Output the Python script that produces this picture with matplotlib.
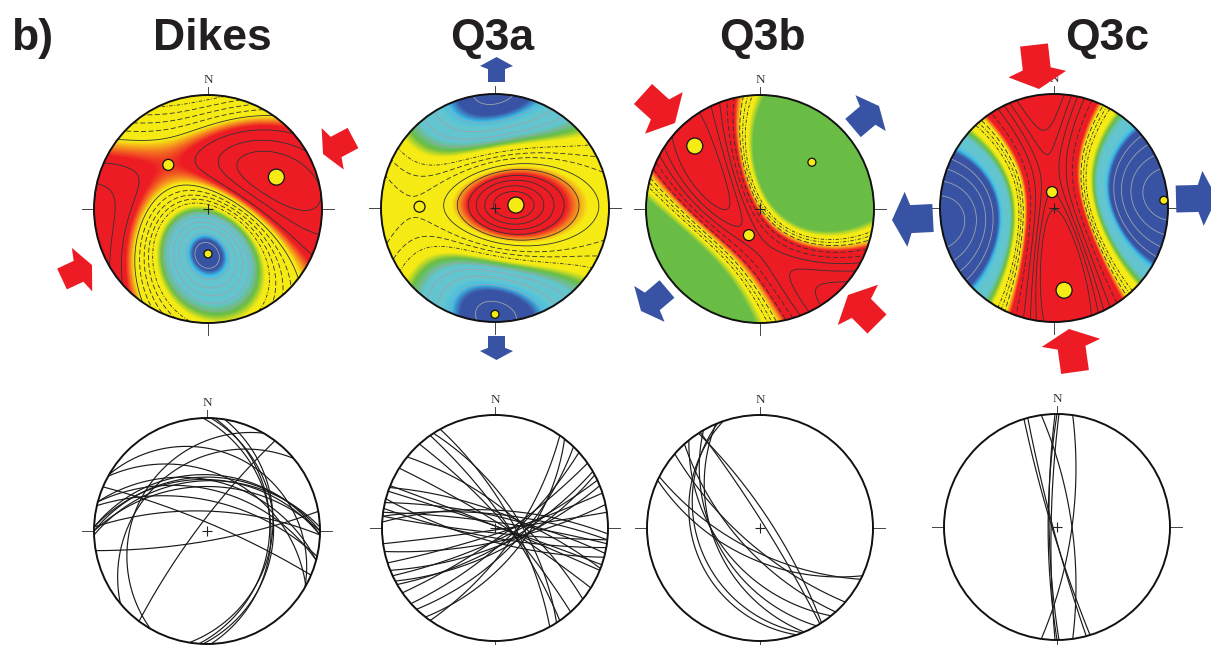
import numpy as np
import matplotlib
matplotlib.use("Agg")
import matplotlib.pyplot as plt
from matplotlib.colors import LinearSegmentedColormap
from matplotlib.patches import Circle, FancyArrow

plt.rcParams['font.family'] = ['Liberation Sans', 'DejaVu Sans']

W, H = 1211, 645
titles = ['Dikes', 'Q3a', 'Q3b', 'Q3c']

# principal axes: [sigma1, sigma2, sigma3] as trend / plunge
dikes_trend, dikes_plunge = [65, 318, 180], [23, 35, 47]
q3a_trend, q3a_plunge = [82, 271, 180], [69, 23, 4]
q3b_trend, q3b_plunge = [314, 203, 48], [13, 62, 27]
q3c_trend, q3c_plunge = [173, 353, 86], [18, 74, 2]
# stress ratio
phi = [0.74, 0.55, 0.9, 0.9]

# colour bands: value of the field at each colour stop
full_colors = ['#3953a4', '#3953a4', '#3fc1ea', '#63c5cf', '#63c5cf', '#6abd45', '#f6eb14', '#f6eb14', '#f58220', '#ed1c24', '#ed1c24']
warm_colors = ['#6abd45', '#6abd45', '#f6eb14', '#f6eb14', '#f58220', '#ed1c24', '#ed1c24']
dikes_bands = [0, .04, .07, .10, .28, .36, .42, .67, .71, .75, 1]
q3a_bands = [0, .06, .095, .13, .25, .32, .37, .66, .72, .77, 1]
q3b_bands = [0, .59, .65, .74, .77, .79, 1]
q3c_bands = [0, .33, .37, .40, .49, .54, .58, .70, .72, .74, 1]
colors = [full_colors, full_colors, warm_colors, full_colors]
green_level = [.36, .32, .59, .54]

# contour levels (grey in the cold part, dark in the warm part)
dikes_levels = [.03, .09, .15, .21, .27, .33, .46, .51, .56, .61, .66, .78, .86, .93]
q3a_levels = [.02, .10, .16, .22, .28, .42, .48, .54, .62, .70, .78, .84, .90, .95]
q3b_levels = [.68, .71, .74, .80, .84, .88, .92, .96]
q3c_levels = [.05, .12, .20, .28, .63, .66, .69, .78, .83, .87, .90, .93]

# great circles of the bottom row: strike (dip to the right of it) and dip
dikes_strike = [9, 2, 358, 4, 270, 272, 268, 272, 270, 272, 80, 293, 230, 217, 210, 299, 300, 283, 285, 285]
dikes_dip = [30, 29, 31, 32, 39, 37, 42, 41, 47, 70, 80, 82, 28, 81, 24, 37, 20, 60, 50, 42]
q3a_strike = [331, 327, 325, 309, 302, 318, 292, 291, 289, 283, 278, 276, 273, 82, 78, 72, 68, 65, 62, 60, 55, 35, 38, 44, 48, 96, 100, 105]
q3a_dip = [72, 66, 78, 70, 84, 80, 88, 74, 88, 78, 84, 76, 72, 88, 76, 84, 72, 78, 68, 72, 80, 70, 60, 66, 74, 85, 80, 76]
q3b_strike = [161, 158, 150, 157, 327, 328, 138, 131, 117, 115, 141]
q3b_dip = [28, 32, 47, 45, 78, 85, 67, 72, 67, 59, 50]
q3c_strike = [180, 8, 163, 165, 352, 179, 181]
q3c_dip = [81, 75, 85, 86, 75, 82, 84]

axes_trend = [dikes_trend, q3a_trend, q3b_trend, q3c_trend]
axes_plunge = [dikes_plunge, q3a_plunge, q3b_plunge, q3c_plunge]
bands = [dikes_bands, q3a_bands, q3b_bands, q3c_bands]
levels = [dikes_levels, q3a_levels, q3b_levels, q3c_levels]
strikes = [dikes_strike, q3a_strike, q3b_strike, q3c_strike]
dips = [dikes_dip, q3a_dip, q3b_dip, q3c_dip]

# layout in pixels of the reference
top_centers = [(208, 209), (495, 208), (760, 209), (1054, 208)]
bottom_centers = [(207, 531), (495, 528), (760, 528), (1057, 527)]
top_radius = 114
bottom_radius = 113
dot_sizes = [8, 5.5, 4]

# arrows: tail x, tail y, tip x, tip y, shaft width, head width, head length, colour
RED = '#ed1c24'
BLUE = '#3953a4'
arrows = [
    (353, 138, 323, 154, 23, 47, 11, RED),
    (62, 279, 92, 265, 23, 48, 11, RED),
    (496.5, 82, 496.5, 57, 17, 33, 9, BLUE),
    (496.5, 336, 496.5, 360, 17, 33, 9, BLUE),
    (643, 94, 675, 123, 27, 56, 15, RED),
    (853, 128, 879, 106, 24, 47, 11, BLUE),
    (667, 289, 641, 311, 23, 47, 11, BLUE),
    (877, 324, 848, 295, 27, 57, 14, RED),
    (1034, 45, 1039, 89, 28, 58, 15, RED),
    (1075, 372, 1069, 329, 28, 59, 14, RED),
    (933, 218, 892, 220, 28, 55, 14, BLUE),
    (1176, 199, 1217, 198, 27, 55, 14, BLUE),
]


def to_vector(trend, plunge):
    t, p = np.radians(trend), np.radians(plunge)
    return np.array([np.cos(p) * np.sin(t), np.cos(p) * np.cos(t), np.sin(p)])


def stereo_xy(v):
    return v[0] / (1 + v[2]), v[1] / (1 + v[2])


def net_axes(fig, cx, cy, r):
    # axes reach past the rim so ticks and the N fit, 1 data unit = rim radius
    m = 1.3
    ax = fig.add_axes([(cx - m * r) / W, 1 - (cy + m * r) / H, 2 * m * r / W, 2 * m * r / H])
    ax.set_xlim(-m, m)
    ax.set_ylim(-m, m)
    ax.axis('off')
    ax.patch.set_alpha(0)
    return ax


def draw_frame(ax, r, lw=1.4):
    ax.add_patch(Circle((0, 0), 1, fill=False, ec='#111111', lw=lw, zorder=6))
    tick = 12 / r
    for dx, dy in [(0, 1), (1, 0), (0, -1), (-1, 0)]:
        length = 8 / r if dy == 1 else tick
        ax.plot([dx, dx * (1 + length)], [dy, dy * (1 + length)], color='#444444', lw=0.7, zorder=5)
    ax.plot([0], [0], marker='+', ms=7, mew=0.8, color='#222222', zorder=6)
    ax.text(0, 1 + 15 / r, 'N', family='Liberation Serif', fontsize=9.5, color='#333333', ha='center', va='center', zorder=5)


def draw_field(ax, i):
    e = [to_vector(t, p) for t, p in zip(axes_trend[i], axes_plunge[i])]
    xs = np.linspace(-1.01, 1.01, 500)
    X, Y = np.meshgrid(xs, xs)
    rr = X ** 2 + Y ** 2
    n = [2 * X / (1 + rr), 2 * Y / (1 + rr), (1 - rr) / (1 + rr)]
    c1 = sum(n[k] * e[0][k] for k in range(3))
    c2 = sum(n[k] * e[1][k] for k in range(3))
    field = c1 ** 2 + phi[i] * c2 ** 2

    cmap = LinearSegmentedColormap.from_list('net%d' % i, list(zip(bands[i], colors[i])), N=512)
    clip = Circle((0, 0), 1, transform=ax.transData)
    im = ax.imshow(field, origin='lower', extent=[-1.01, 1.01, -1.01, 1.01], cmap=cmap, vmin=0, vmax=1,
                   interpolation='bilinear', zorder=1)
    im.set_clip_path(clip)

    # dark lines above the green band, grey ones below it
    split = green_level[i]
    cols = ['#333333' if lv > split else '#9aa5aa' for lv in levels[i]]
    styles = []
    for lv in levels[i]:
        if lv > split + 0.25 or lv < split:
            styles.append('solid')
        elif lv > split + 0.12:
            styles.append((0, (6, 3)))
        else:
            styles.append((0, (4, 2, 1, 2)))
    cs = ax.contour(X, Y, field, levels=levels[i], colors=cols, linestyles=styles, linewidths=0.6, zorder=2)
    cs.set_clip_path(clip)

    # sigma 1, 2, 3 dots
    for v, size in zip(e, dot_sizes):
        x, y = stereo_xy(v)
        ax.add_patch(Circle((x, y), size / top_radius, fc='#f6eb14', ec='#111111', lw=0.9, zorder=7))


def draw_circles(ax, i):
    clip = Circle((0, 0), 1, transform=ax.transData)
    rake = np.linspace(0, np.pi, 200)
    for s, d in zip(strikes[i], dips[i]):
        along = to_vector(s, 0)
        down = to_vector(s + 90, d)
        v = np.outer(np.cos(rake), along) + np.outer(np.sin(rake), down)
        x, y = stereo_xy(v.T)
        line, = ax.plot(x, y, color='#1a1a1a', lw=0.85, zorder=3)
        line.set_clip_path(clip)


fig = plt.figure(figsize=(W / 100, H / 100), dpi=100)

for i in range(4):
    ax = net_axes(fig, top_centers[i][0], top_centers[i][1], top_radius)
    draw_field(ax, i)
    draw_frame(ax, top_radius)

    ax = net_axes(fig, bottom_centers[i][0], bottom_centers[i][1], bottom_radius)
    draw_circles(ax, i)
    draw_frame(ax, bottom_radius)

# overlay in pixel coordinates for arrows and titles
over = fig.add_axes([0, 0, 1, 1])
over.set_xlim(0, W)
over.set_ylim(H, 0)
over.axis('off')
over.patch.set_alpha(0)

for x0, y0, x1, y1, shaft, head, head_len, col in arrows:
    over.add_patch(FancyArrow(x0, y0, x1 - x0, y1 - y0, width=shaft, head_width=head, head_length=head_len,
                              length_includes_head=True, overhang=-0.35, fc=col, ec='none', zorder=5))

title_x = [212, 492, 762, 1107]
for x, name in zip(title_x, titles):
    over.text(x, 50, name, fontsize=32, fontweight='bold', color='#231f20', ha='center', va='baseline')
over.text(11, 50, 'b)', fontsize=32, fontweight='bold', color='#231f20', ha='left', va='baseline')

fig.savefig('out.png', dpi=100)
